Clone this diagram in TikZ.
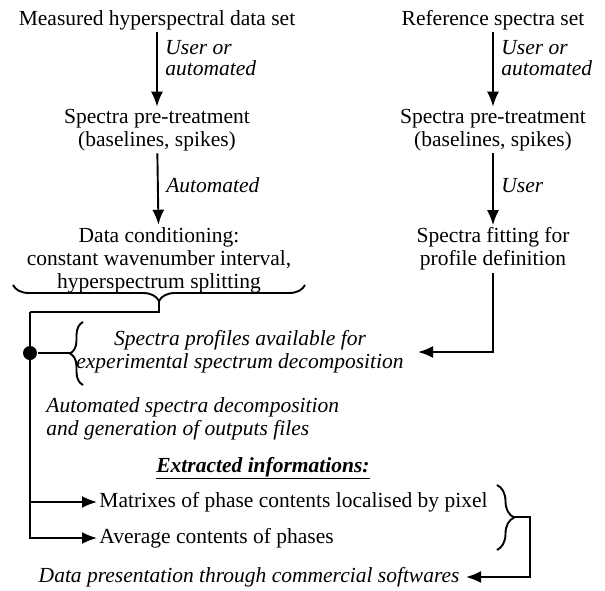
\documentclass[tikz,border=0pt]{standalone}
\usepackage{fontspec}
\setmainfont{Liberation Serif}
\usepackage{tikz}
\usetikzlibrary{arrows.meta,decorations.pathreplacing}

\begin{document}
\begin{tikzpicture}
	[x=1pt,y=-1pt,line width=1.9pt,
	every node/.style={inner sep=1.5pt,align=center,font=\fontsize{21.5}{23}\selectfont},
	edge/.style={->,> = {Latex[length=15pt,width=12pt]}},
	note/.style={right,xshift=6pt,align=left,font=\fontsize{21.5}{20.5}\selectfont\itshape},
	ital/.style={font=\fontsize{21.5}{23}\selectfont\itshape},
	curly/.style={decorate,decoration={brace,amplitude=#1}},
	junction/.style={circle,fill,minimum size=14pt,inner sep=0pt}]
	\useasboundingbox (0,0) rectangle (605,590);

	\node (meas) at (157,20)  {Measured hyperspectral data set};
	\node (ref)  at (493,20)  {Reference spectra set};
	\node (pre1) at (157,130) {Spectra pre-treatment\\(baselines, spikes)};
	\node (pre2) at (493,130) {Spectra pre-treatment\\(baselines, spikes)};
	\node (cond) at (159,260) {Data conditioning:\\constant wavenumber interval,\\hyperspectrum splitting};
	\node (fit)  at (493,249) {Spectra fitting for\\profile definition};
	\node[ital] (prof) at (240,352) {Spectra profiles available for\\experimental spectrum decomposition};
	\node[ital,anchor=west,align=left] (deco) at (44,419) {Automated spectra decomposition\\and generation of outputs files};
	\node (extr) at (263,468) {\underline{\textbf{\textit{Extracted informations:}}}};
	\node[anchor=west] (mat) at (97,502) {Matrixes of phase contents localised by pixel};
	\node[anchor=west] (avg) at (97,538) {Average contents of phases};
	\node[ital,anchor=east] (pres) at (462,577) {Data presentation through commercial softwares};

	\draw[edge] (meas) to node[note,pos=.35] {User or\\automated} (pre1);
	\draw[edge] (ref) to node[note,pos=.35] {User or\\automated} (pre2);
	\draw[edge] (pre1) to node[note,pos=.45] {Automated} (cond);
	\draw[edge] (pre2) to node[note,pos=.45] {User} (fit);

	% braces and the branching line
	\coordinate (ctip)  at (159,301);
	\coordinate (trunk) at (30,312);
	\coordinate (ptip)  at (70,353);
	\coordinate (rtip)  at (514,517);
	\node[junction] (dot) at (30,353) {};

	\draw[curly=16pt] (305,285) -- (13,285);
	\draw (ctip) |- (trunk);
	\draw[edge] (trunk) |- (mat);
	\draw[edge] (trunk) |- (avg);
	\draw (dot) -- (ptip);
	\draw[curly=13pt] (83,385) -- (83,322);
	\draw[edge,shorten >=12pt] (fit) |- (prof);
	\draw[curly=17pt] (497,485) -- (497,550);
	\draw[edge,shorten >=4pt] (rtip) -- ++(16,0) |- (pres);
\end{tikzpicture}
\end{document}
